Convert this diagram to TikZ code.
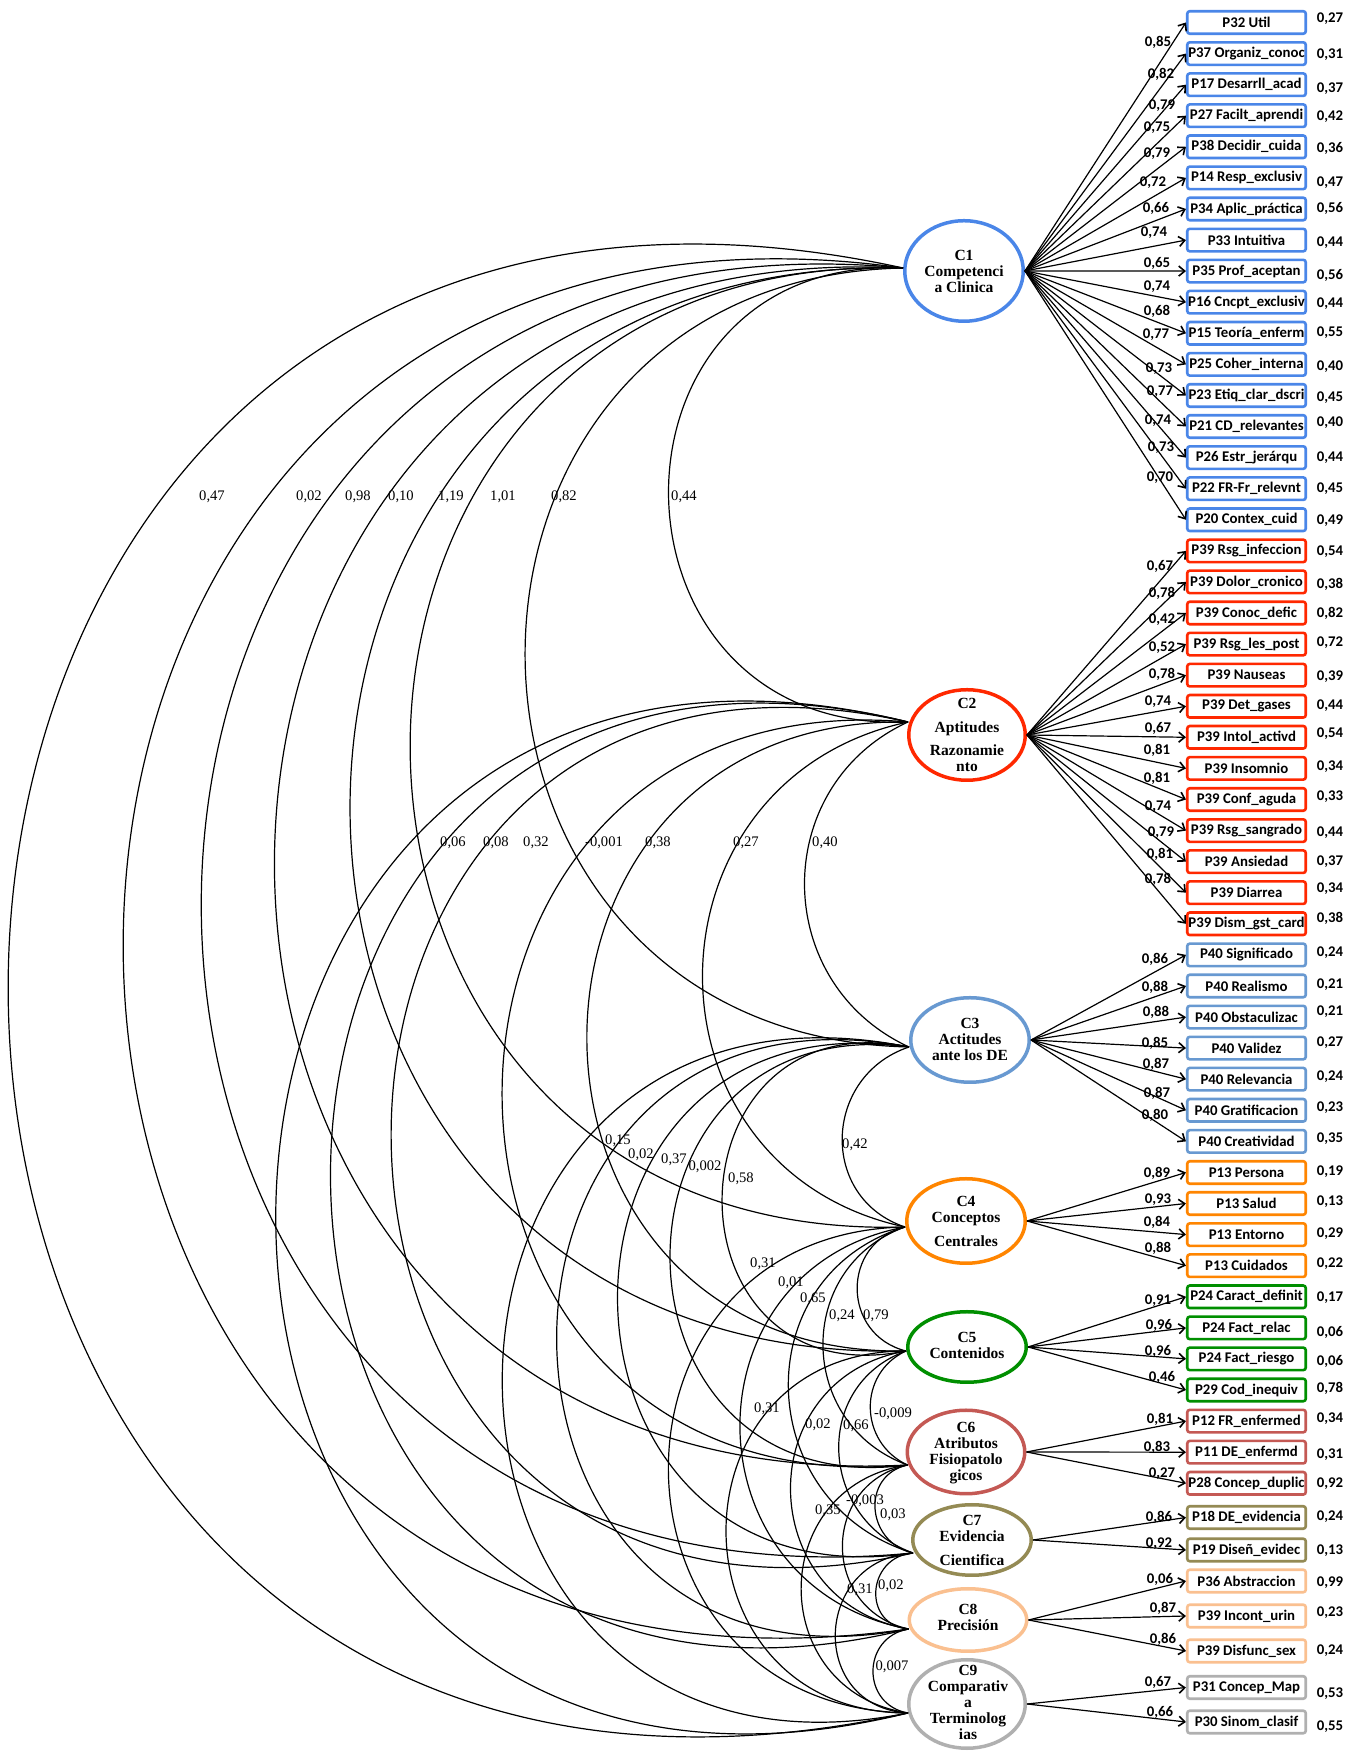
\documentclass[tikz,border=0pt]{standalone}
\usepackage{fontspec}
\setmainfont{Liberation Serif}
\newfontfamily\boxfont{Carlito}
\usetikzlibrary{arrows.meta,shapes.geometric,calc}

\definecolor{cA}{RGB}{74,134,232}
\definecolor{cB}{RGB}{255,40,0}
\definecolor{cC}{RGB}{104,153,209}
\definecolor{cD}{RGB}{255,133,0}
\definecolor{cE}{RGB}{0,143,0}
\definecolor{cF}{RGB}{196,89,84}
\definecolor{cG}{RGB}{148,138,84}
\definecolor{cH}{RGB}{250,192,144}
\definecolor{cI}{RGB}{176,176,176}

\tikzset{
  item/.style={draw=#1, line width=2.6pt, rounded corners=2.5pt,
    minimum width=118.5pt, minimum height=22.5pt, inner sep=0pt,
    font=\boxfont\bfseries\fontsize{14.8}{16}\selectfont},
  lat/.style={draw=#1, ellipse, line width=3.5pt, inner sep=0pt},
  lattext/.style={align=center, inner sep=0pt, anchor=base,
    font=\bfseries\fontsize{15.5}{16}\selectfont},
  num/.style={inner sep=0pt, font=\boxfont\bfseries\fontsize{14.8}{16}\selectfont},
  covlab/.style={inner sep=0pt, font=\fontsize{14.6}{16}\selectfont},
  load/.style={line width=1.2pt, -{Straight Barb[length=6pt,width=10pt,line width=1.6pt]}},
  cov/.style={line width=1.2pt},
}

% covariance arc: circular-looking bow to the left, #3 = bulge / height
\newcommand\covarc[3]{%
  \pgfmathsetmacro\cvphi{2*atan(2*#3)}%
  \pgfmathsetmacro\cvout{270-\cvphi}%
  \pgfmathsetmacro\cvin{90+\cvphi}%
  \pgfmathsetmacro\cvk{(1+4*#3*#3)/3}%
  \draw[cov] let \p1=(#1), \p2=(#2), \n1={abs(\y1-\y2)*\cvk} in
    (#1) .. controls +(\cvout:\n1) and +(\cvin:\n1) .. (#2);%
}

% indicator boxes of one factor
\newcommand\indgroup[3]{%
  \foreach \i/\txt/\yy/\ld/\lx/\ly/\rs/\ry in {#3} {
    \node[item=#2] (b\i) at (1246.5,{1753-\yy}) {\txt};
    \draw[load] (#1.east) -- (b\i.west);
    \node[num] (l\i) at (\lx,{1753-\ly}) {\ld};
    \node[num] (r\i) at (1330,{1753-\ry}) {\rs};
  }%
}

\begin{document}
\begin{tikzpicture}[x=1pt,y=1pt]
\fill[white] (0,0) rectangle (1361,1753);
\useasboundingbox (0,0) rectangle (1361,1753);

% latent factors
\node[lat=cA, minimum width=118.5pt, minimum height=100.5pt] (C1) at (964,{1753-271}) {};
\node[lat=cB, minimum width=116.5pt, minimum height=90.5pt]  (C2) at (967,{1753-735}) {};
\node[lat=cC, minimum width=118.5pt, minimum height=84.5pt]  (C3) at (970,{1753-1040}) {};
\node[lat=cD, minimum width=118.5pt, minimum height=84.5pt]  (C4) at (966,{1753-1221}) {};
\node[lat=cE, minimum width=118.5pt, minimum height=70.5pt]  (C5) at (967,{1753-1347}) {};
\node[lat=cF, minimum width=117.5pt, minimum height=83.5pt]  (C6) at (966,{1753-1452}) {};
\node[lat=cG, minimum width=118.5pt, minimum height=70.5pt]  (C7) at (972,{1753-1540}) {};
\node[lat=cH, minimum width=117.5pt, minimum height=62.5pt]  (C8) at (968,{1753-1620}) {};
\node[lat=cI, minimum width=116.5pt, minimum height=88.5pt]  (C9) at (967,{1753-1704}) {};

% factor names (anchored on the baseline of their last line)
\node[lattext] (t1) at (964,{1753-292.5}) {C1\\Competenci\\a Clinica};
\node[lattext] (t2) at (967,{1753-771.5}) {C2\\[8pt]Aptitudes\\[7pt]Razonamie\\nto};
\node[lattext] (t3) at (970,{1753-1060.5}) {C3\\Actitudes\\ante los DE};
\node[lattext] (t4) at (966,{1753-1246.5}) {C4\\Conceptos\\[8pt]Centrales};
\node[lattext] (t5) at (967,{1753-1358.5}) {C5\\Contenidos};
\node[lattext] (t6) at (966,{1753-1481}) {C6\\Atributos\\Fisiopatolo\\gicos};
\node[lattext] (t7) at (972,{1753-1565.5}) {C7\\Evidencia\\[8pt]Cientifica};
\node[lattext] (t8) at (968,{1753-1630.5}) {C8\\Precisión};
\node[lattext] (t9) at (968,{1753-1740}) {C9\\Comparativ\\a\\Terminolog\\ias};

% meeting points of the covariance arcs
\coordinate (k1) at ($(C1.west)+(0,3)$);
\coordinate (k2) at ($(C2.west)+(1,13)$);
\coordinate (k3) at ($(C3.west)+(0,-7)$);
\coordinate (k4) at ($(C4.west)+(0,-6)$);
\coordinate (k5) at ($(C5.west)+(0,-4)$);
\coordinate (k6) at ($(C6.west)+(2,-13)$);
\coordinate (k7) at ($(C7.west)+(2,-13)$);
\coordinate (k8) at ($(C8.west)+(1,-9)$);
\coordinate (k9) at ($(C9.west)+(1,-9)$);

% covariances
\covarc{k1}{k2}{0.522}
\covarc{k1}{k3}{0.489}
\covarc{k1}{k4}{0.515}
\covarc{k1}{k5}{0.512}
\covarc{k1}{k6}{0.527}
\covarc{k1}{k7}{0.550}
\covarc{k1}{k8}{0.575}
\covarc{k1}{k9}{0.621}
\covarc{k2}{k3}{0.32}
\covarc{k2}{k4}{0.404}
\covarc{k2}{k5}{0.509}
\covarc{k2}{k6}{0.546}
\covarc{k2}{k7}{0.625}
\covarc{k2}{k8}{0.637}
\covarc{k2}{k9}{0.638}
\covarc{k3}{k4}{0.36}
\covarc{k3}{k5}{0.61}
\covarc{k3}{k6}{0.57}
\covarc{k3}{k7}{0.58}
\covarc{k3}{k8}{0.605}
\covarc{k3}{k9}{0.61}
\covarc{k4}{k5}{0.39}
\covarc{k4}{k6}{0.35}
\covarc{k4}{k7}{0.37}
\covarc{k4}{k8}{0.415}
\covarc{k4}{k9}{0.49}
\covarc{k5}{k6}{0.32}
\covarc{k5}{k7}{0.35}
\covarc{k5}{k8}{0.42}
\covarc{k5}{k9}{0.50}
\covarc{k6}{k7}{0.40}
\covarc{k6}{k8}{0.40}
\covarc{k6}{k9}{0.43}
\covarc{k7}{k8}{0.46}
\covarc{k7}{k9}{0.47}
\covarc{k8}{k9}{0.42}

% covariance values
\node[covlab] (v19) at (212,{1753-497}) {0,47};
\node[covlab] (v18) at (309,{1753-497}) {0,02};
\node[covlab] (v17) at (358,{1753-497}) {0,98};
\node[covlab] (v16) at (401,{1753-497}) {0,10};
\node[covlab] (v15) at (451,{1753-497}) {1,19};
\node[covlab] (v14) at (503,{1753-497}) {1,01};
\node[covlab] (v13) at (564,{1753-497}) {0,82};
\node[covlab] (v12) at (684,{1753-497}) {0,44};
\node[covlab] (v29) at (453,{1753-843}) {0,06};
\node[covlab] (v28) at (496,{1753-843}) {0,08};
\node[covlab] (v27) at (536,{1753-843}) {0,32};
\node[covlab] (v26) at (604,{1753-843}) {-0,001};
\node[covlab] (v25) at (658,{1753-843}) {0,38};
\node[covlab] (v24) at (746,{1753-843}) {0,27};
\node[covlab] (v23) at (825,{1753-843}) {0,40};
\node[covlab] (v39) at (618,{1753-1141}) {0,15};
\node[covlab] (v38) at (641,{1753-1155}) {0,02};
\node[covlab] (v37) at (674,{1753-1160}) {0,37};
\node[covlab] (v36) at (705,{1753-1167}) {0,002};
\node[covlab] (v35) at (741,{1753-1179}) {0,58};
\node[covlab] (v34) at (855,{1753-1145}) {0,42};
\node[covlab] (v49) at (763,{1753-1264}) {0,31};
\node[covlab] (v48) at (791,{1753-1283}) {0,01};
\node[covlab] (v47) at (813,{1753-1299}) {0,65};
\node[covlab] (v46) at (842,{1753-1316}) {0,24};
\node[covlab] (v45) at (876,{1753-1316}) {0,79};
\node[covlab] (v59) at (767,{1753-1409}) {0,31};
\node[covlab] (v58) at (818,{1753-1425}) {0,02};
\node[covlab] (v57) at (856,{1753-1426}) {0,66};
\node[covlab] (v56) at (893,{1753-1414}) {-0,009};
\node[covlab] (v69) at (828,{1753-1511}) {0,35};
\node[covlab] (v68) at (865,{1753-1501}) {-0,003};
\node[covlab] (v67) at (893,{1753-1515}) {0,03};
\node[covlab] (v79) at (860,{1753-1590}) {0,31};
\node[covlab] (v78) at (891,{1753-1586}) {0,02};
\node[covlab] (v89) at (892,{1753-1667}) {0,007};

% indicators
\indgroup{C1}{cA}{
0/P32 Util/22.5/{0,85}/1158/42/{0,27}/19,
1/P37 Organiz\_conoc/53.6/{0,82}/1161/74/{0,31}/55,
2/P17 Desarrll\_acad/84.7/{0,79}/1162/106/{0,37}/89,
3/P27 Facilt\_aprendi/115.7/{0,75}/1157/128/{0,42}/117,
4/P38 Decidir\_cuida/146.8/{0,79}/1157/154/{0,36}/148,
5/P14 Resp\_exclusiv/177.9/{0,72}/1153/183/{0,47}/183,
6/P34 Aplic\_práctica/209.0/{0,66}/1156/208/{0,56}/208,
7/P33 Intuitiva/240.1/{0,74}/1154/233/{0,44}/243,
8/P35 Prof\_aceptan/271.1/{0,65}/1157/263/{0,56}/275,
9/P16 Cncpt\_exclusiv/302.2/{0,74}/1157/287/{0,44}/304,
10/P15 Teoría\_enferm/333.3/{0,68}/1157/311/{0,55}/333,
11/P25 Coher\_interna/364.4/{0,77}/1156/335/{0,40}/367,
12/P23 Etiq\_clar\_dscri/395.5/{0,73}/1159/369/{0,45}/398,
13/P21 CD\_relevantes/426.5/{0,77}/1160/392/{0,40}/423,
14/P26 Estr\_jerárqu/457.6/{0,74}/1158/421/{0,44}/458,
15/P22 FR-Fr\_relevnt/488.7/{0,73}/1161/448/{0,45}/489,
16/P20 Contex\_cuid/519.8/{0,70}/1160/478/{0,49}/521}

\indgroup{C2}{cB}{
17/P39 Rsg\_infeccion/550.9/{0,67}/1160/566/{0,54}/552,
18/P39 Dolor\_cronico/581.9/{0,78}/1162/593/{0,38}/584,
19/P39 Conoc\_defic/613.0/{0,42}/1162/620/{0,82}/613,
20/P39 Rsg\_les\_post/644.1/{0,52}/1162/648/{0,72}/643,
21/P39 Nauseas/675.2/{0,78}/1162/674/{0,39}/677,
22/P39 Det\_gases/706.3/{0,74}/1158/702/{0,44}/706,
23/P39 Intol\_activd/737.3/{0,67}/1158/728/{0,54}/734,
24/P39 Insomnio/768.4/{0,81}/1157/750/{0,34}/767,
25/P39 Conf\_aguda/799.5/{0,81}/1157/778/{0,33}/797,
26/P39 Rsg\_sangrado/830.6/{0,74}/1158/807/{0,44}/833,
27/P39 Ansiedad/861.7/{0,79}/1161/833/{0,37}/862,
28/P39 Diarrea/892.7/{0,81}/1160/854/{0,34}/889,
29/P39 Dism\_gst\_card/923.8/{0,78}/1158/879/{0,38}/918}

\indgroup{C3}{cC}{
30/P40 Significado/954.9/{0,86}/1155/959/{0,24}/953,
31/P40 Realismo/986.0/{0,88}/1155/987/{0,21}/985,
32/P40 Obstaculizac/1017.1/{0,88}/1156/1012/{0,21}/1012,
33/P40 Validez/1048.1/{0,85}/1155/1043/{0,27}/1043,
34/P40 Relevancia/1079.2/{0,87}/1156/1064/{0,24}/1077,
35/P40 Gratificacion/1110.3/{0,87}/1157/1093/{0,23}/1108,
36/P40 Creatividad/1141.4/{0,80}/1155/1115/{0,35}/1139}

\indgroup{C4}{cD}{
37/P13 Persona/1172.5/{0,89}/1157/1173/{0,19}/1172,
38/P13 Salud/1203.5/{0,93}/1158/1200/{0,13}/1202,
39/P13 Entorno/1234.6/{0,84}/1157/1222/{0,29}/1234,
40/P13 Cuidados/1265.7/{0,88}/1158/1248/{0,22}/1264}

\indgroup{C5}{cE}{
41/P24 Caract\_definit/1296.8/{0,91}/1158/1301/{0,17}/1298,
42/P24 Fact\_relac/1327.9/{0,96}/1159/1325/{0,06}/1332,
43/P24 Fact\_riesgo/1358.9/{0,96}/1158/1351/{0,06}/1361,
44/P29 Cod\_inequiv/1390.0/{0,46}/1162/1377/{0,78}/1388}

\indgroup{C6}{cF}{
45/P12 FR\_enfermed/1421.1/{0,81}/1160/1419/{0,34}/1419,
46/P11 DE\_enfermd/1452.2/{0,83}/1157/1447/{0,31}/1455,
47/P28 Concep\_duplic/1483.3/{0,27}/1162/1474/{0,92}/1484}

\indgroup{C7}{cG}{
48/P18 DE\_evidencia/1517.5/{0,86}/1159/1517/{0,24}/1517,
49/P19 Diseñ\_evidec/1550/{0,92}/1159/1544/{0,13}/1551}

\indgroup{C8}{cH}{
50/P36 Abstraccion/1581/{0,06}/1160/1579/{0,99}/1583,
51/P39 Incont\_urin/1616/{0,87}/1163/1608/{0,23}/1613,
52/P39 Disfunc\_sex/1651/{0,86}/1163/1639/{0,24}/1651}

\indgroup{C9}{cI}{
53/P31 Concep\_Map/1687.5/{0,67}/1158/1682/{0,53}/1694,
54/P30 Sinom\_clasif/1722/{0,66}/1160/1712/{0,55}/1727}

\end{tikzpicture}
\end{document}
